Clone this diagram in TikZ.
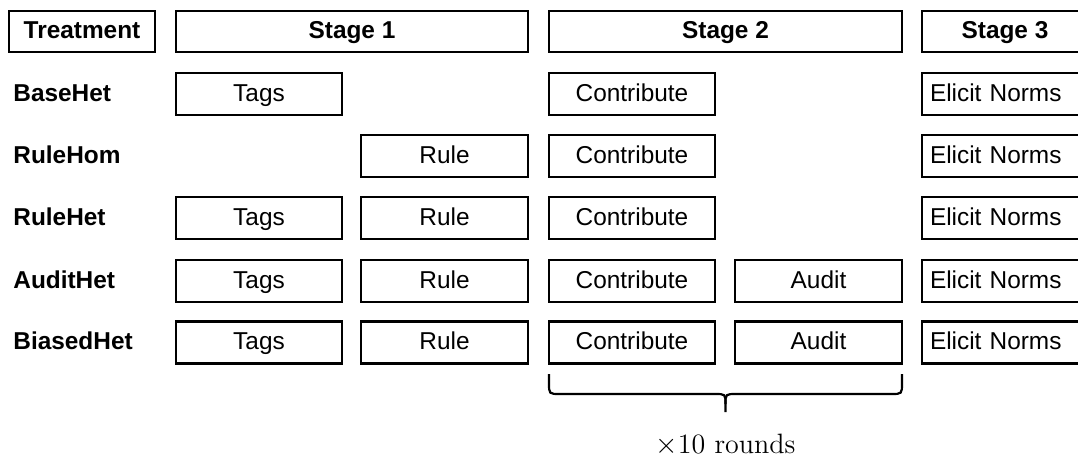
\documentclass[tikz,border=0pt]{standalone}
\usepackage{fontspec}
\newfontfamily\arialfont{Liberation Sans}
\begin{document}
\begin{tikzpicture}[x=0.5pt,y=-0.5pt,
  cell/.style={draw=black,line width=1.1pt,minimum height=21pt,inner sep=0pt,text height=8.6pt,text depth=1.6pt,font=\arialfont\fontsize{12.2}{14}\selectfont},
  head/.style={cell,minimum height=20.5pt,font=\arialfont\bfseries\fontsize{12.2}{14}\selectfont},
  rowlabel/.style={anchor=west,inner sep=0pt,text height=8.6pt,text depth=1.6pt,font=\arialfont\bfseries\fontsize{12.2}{14}\selectfont},
  bracestyle/.style={line width=1.1pt}]
\clip (0,0) rectangle (1078,457);
% headers
\node[head,minimum width=73pt] (treat) at (82,31.5) {Treatment};
\node[head,minimum width=176pt] (s1) at (352,31.5) {Stage 1};
\node[head,minimum width=176.5pt] (s2) at (725.5,31.5) {Stage 2};
\node[head,minimum width=83pt] (s3) at (1005,31.5) {Stage 3};
% row labels
\node[rowlabel] (l1) at (13,94) {BaseHet};
\node[rowlabel] (l2) at (13,156) {RuleHom};
\node[rowlabel] (l3) at (13,218) {RuleHet};
\node[rowlabel] (l4) at (13,281) {AuditHet};
\node[rowlabel] (l5) at (13,342.5) {BiasedHet};
% row 1
\node[cell,minimum width=83pt] (t1) at (259,94) {Tags};
\node[cell,minimum width=83pt] (c1) at (632,94) {Contribute};
\node[cell,text width=75pt,inner xsep=4pt,align=left] (e1) at (1005,94) {Elicit Norms};
% row 2
\node[cell,minimum width=83.5pt] (r2) at (444.5,156) {Rule};
\node[cell,minimum width=83pt] (c2) at (632,156) {Contribute};
\node[cell,text width=75pt,inner xsep=4pt,align=left] (e2) at (1005,156) {Elicit Norms};
% row 3
\node[cell,minimum width=83pt] (t3) at (259,218) {Tags};
\node[cell,minimum width=83.5pt] (r3) at (444.5,218) {Rule};
\node[cell,minimum width=83pt] (c3) at (632,218) {Contribute};
\node[cell,text width=75pt,inner xsep=4pt,align=left] (e3) at (1005,218) {Elicit Norms};
% row 4
\node[cell,minimum width=83pt] (t4) at (259,281) {Tags};
\node[cell,minimum width=83.5pt] (r4) at (444.5,281) {Rule};
\node[cell,minimum width=83pt] (c4) at (632,281) {Contribute};
\node[cell,minimum width=83.5pt] (a4) at (818.5,281) {Audit};
\node[cell,text width=75pt,inner xsep=4pt,align=left] (e4) at (1005,281) {Elicit Norms};
% row 5
\node[cell,minimum width=83pt] (t5) at (259,342.5) {Tags};
\node[cell,minimum width=83.5pt] (r5) at (444.5,342.5) {Rule};
\node[cell,minimum width=83pt] (c5) at (632,342.5) {Contribute};
\node[cell,minimum width=83.5pt] (a5) at (818.5,342.5) {Audit};
\node[cell,text width=75pt,inner xsep=4pt,align=left] (e5) at (1005,342.5) {Elicit Norms};
% brace
\coordinate (bl) at (549,374);
\coordinate (br) at (902,374);
\coordinate (bt) at (725.5,412);
\draw[bracestyle] (bl) -- (549,383) .. controls (549,394) .. (560,394) -- (714.5,394) .. controls (725.5,394) .. (bt |- 0,404) -- (bt);
\draw[bracestyle] (br) -- (902,383) .. controls (902,394) .. (891,394) -- (736.5,394) .. controls (725.5,394) .. (bt |- 0,404);
\node[font=\fontsize{14}{17}\selectfont,inner sep=0pt] (lab) at (725.5,444.5) {$\times$10 rounds};
\end{tikzpicture}
\end{document}
